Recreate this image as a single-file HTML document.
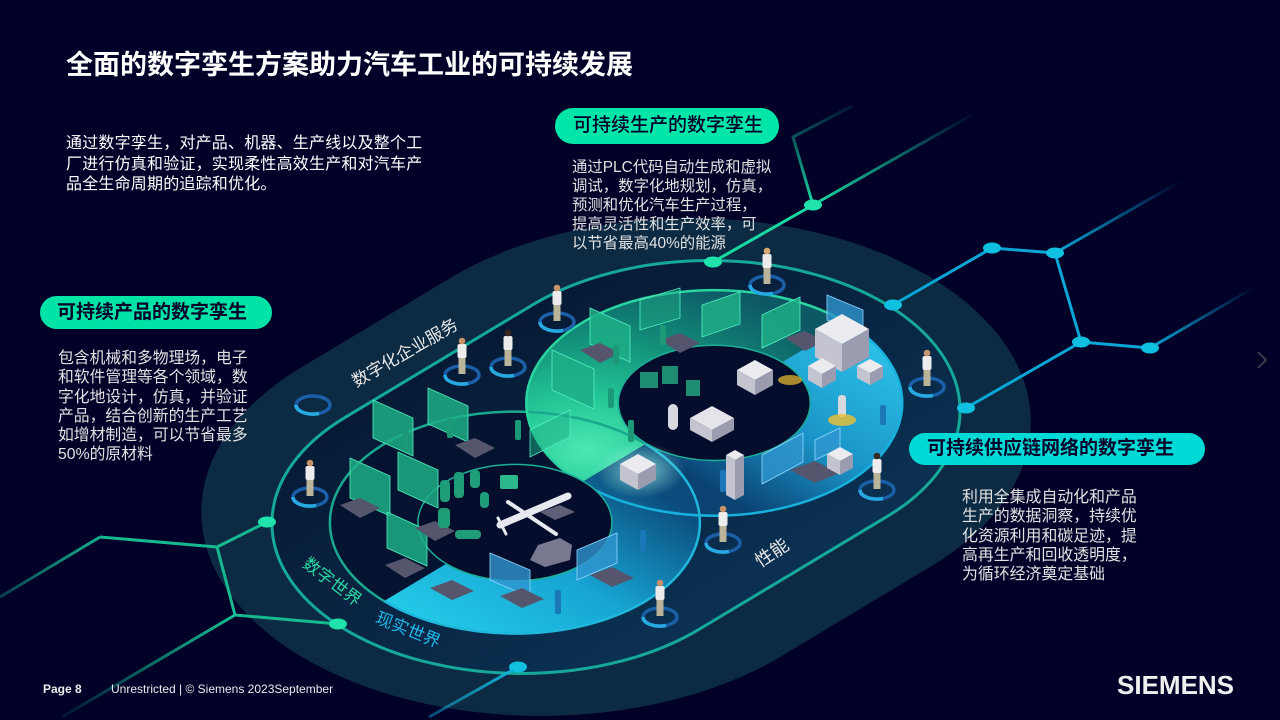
<!DOCTYPE html>
<html><head><meta charset="utf-8">
<style>
html,body{margin:0;padding:0;background:#000028;width:1280px;height:720px;overflow:hidden;}
#c{position:relative;width:1280px;height:720px;overflow:hidden;background:#000028;font-family:"Liberation Sans","Noto Sans CJK SC",sans-serif;}
svg{position:absolute;left:0;top:0;display:block}
.t{position:absolute;white-space:nowrap;color:#fff;}
.pill{position:absolute;white-space:nowrap;color:#000028;box-sizing:border-box;}
svg text{font-family:"Liberation Sans","Noto Sans CJK SC",sans-serif;}
</style></head><body><div id="c">
<svg width="1280" height="720" viewBox="0 0 1280 720">
<defs>
<clipPath id="dig"><polygon points="250,681.5 1000,231.5 1000,200 250,200"/></clipPath>
<clipPath id="real"><polygon points="250,681.5 1000,231.5 1000,700 250,700"/></clipPath>
<linearGradient id="ringIn" gradientUnits="userSpaceOnUse" gradientTransform="translate(616,467) scale(1,0.6) rotate(-45)" x1="0" y1="-250" x2="0" y2="250"><stop offset="0" stop-color="#061a35"/><stop offset="1" stop-color="#0b3152"/></linearGradient>
<radialGradient id="green" gradientUnits="userSpaceOnUse" gradientTransform="translate(616,467) scale(1,0.6) rotate(-45)" cx="0" cy="-40" r="300"><stop offset="0" stop-color="#4ae8b4"/><stop offset="0.3" stop-color="#23c595"/><stop offset="0.62" stop-color="#12907a"/><stop offset="1" stop-color="#0d5865"/></radialGradient>
<linearGradient id="rblue" gradientUnits="userSpaceOnUse" gradientTransform="translate(616,467) scale(1,0.6) rotate(-45)" x1="40" y1="0" x2="330" y2="0"><stop offset="0" stop-color="#0a4272"/><stop offset="0.45" stop-color="#1a94c8"/><stop offset="1" stop-color="#2cc0e8"/></linearGradient>
<linearGradient id="lcyan" gradientUnits="userSpaceOnUse" gradientTransform="translate(616,467) scale(1,0.6) rotate(-45)" x1="-330" y1="0" x2="0" y2="0"><stop offset="0" stop-color="#24cbe8"/><stop offset="0.5" stop-color="#17a5d4"/><stop offset="1" stop-color="#0b4c7c"/></linearGradient>
<radialGradient id="glow" cx="0.5" cy="0.5" r="0.5"><stop offset="0" stop-color="#9ff5e6" stop-opacity="0.75"/><stop offset="1" stop-color="#9ff5e6" stop-opacity="0"/></radialGradient>
<linearGradient id="fTop" gradientUnits="userSpaceOnUse" x1="813" y1="205" x2="977" y2="112"><stop offset="0" stop-color="#19d9a3"/><stop offset="1" stop-color="#19d9a3" stop-opacity="0"/></linearGradient>
<linearGradient id="fTop2" gradientUnits="userSpaceOnUse" x1="0" y1="205" x2="0" y2="100"><stop offset="0" stop-color="#19d9a3"/><stop offset="1" stop-color="#19d9a3" stop-opacity="0.05"/></linearGradient>
<linearGradient id="fR1" gradientUnits="userSpaceOnUse" x1="1055" y1="253" x2="1183" y2="180"><stop offset="0" stop-color="#0aa6d6"/><stop offset="1" stop-color="#0aa6d6" stop-opacity="0"/></linearGradient>
<linearGradient id="fR2" gradientUnits="userSpaceOnUse" x1="1150" y1="348" x2="1255" y2="287"><stop offset="0" stop-color="#0aa6d6"/><stop offset="1" stop-color="#0aa6d6" stop-opacity="0"/></linearGradient>
<linearGradient id="fL1" gradientUnits="userSpaceOnUse" x1="235" y1="615" x2="62" y2="717"><stop offset="0" stop-color="#16c092"/><stop offset="1" stop-color="#16c092" stop-opacity="0.1"/></linearGradient>
<linearGradient id="fL2" gradientUnits="userSpaceOnUse" x1="100" y1="537" x2="0" y2="597"><stop offset="0" stop-color="#16b08c"/><stop offset="1" stop-color="#16b08c" stop-opacity="0.35"/></linearGradient>
<linearGradient id="fB" gradientUnits="userSpaceOnUse" x1="518" y1="667" x2="429" y2="717"><stop offset="0" stop-color="#14b4dc"/><stop offset="1" stop-color="#14b4dc" stop-opacity="0.4"/></linearGradient>
</defs>

<!-- band capsule -->
<path d="M300.7,367.8 L450.6,277.8 A340 204 0 0 1 931.3,277.8 A340 204 0 0 1 931.3,566.2 L781.4,656.2 A340 204 0 0 1 300.7,656.2 A340 204 0 0 1 300.7,367.8 Z" fill="#0c2b43"/>
<!-- ring interior -->
<path d="M345.2,417.3 L533.2,304.5 A250 150 0 0 1 886.8,304.5 A250 150 0 0 1 886.8,516.7 L698.8,629.5 A250 150 0 0 1 345.2,629.5 A250 150 0 0 1 345.2,417.3 Z" fill="url(#ringIn)"/>
<!-- circles -->
<ellipse cx="514.9" cy="522.6" rx="185" ry="111" fill="#041430"/>
<ellipse cx="714.3" cy="402.9" rx="188" ry="112.8" fill="url(#green)" clip-path="url(#dig)"/>
<ellipse cx="714.3" cy="402.9" rx="188" ry="112.8" fill="url(#rblue)" clip-path="url(#real)"/>
<ellipse cx="514.9" cy="522.6" rx="185" ry="111" fill="url(#lcyan)" clip-path="url(#real)"/>
<ellipse cx="514.9" cy="522.6" rx="185" ry="111" fill="none" stroke="#1aa88f" stroke-width="2.5" clip-path="url(#dig)"/>
<ellipse cx="514.9" cy="522.6" rx="185" ry="111" fill="none" stroke="#1fb8dc" stroke-width="2.5" clip-path="url(#real)"/>
<ellipse cx="714.3" cy="402.9" rx="188" ry="112.8" fill="none" stroke="#2ad4a0" stroke-width="2.5" clip-path="url(#dig)"/>
<ellipse cx="714.3" cy="402.9" rx="188" ry="112.8" fill="none" stroke="#18b0dc" stroke-width="2.5" clip-path="url(#real)"/>
<ellipse cx="514.9" cy="522.6" rx="97" ry="58.2" fill="#050d2c" stroke="#1cae96" stroke-width="1.5"/>
<ellipse cx="714.3" cy="402.9" rx="96" ry="57.6" fill="#050d2c" stroke="#1cae96" stroke-width="1.5"/>
<!-- ring stroke -->
<path d="M345.2,417.3 L533.2,304.5 A250 150 0 0 1 886.8,304.5 A250 150 0 0 1 886.8,516.7 L698.8,629.5 A250 150 0 0 1 345.2,629.5 A250 150 0 0 1 345.2,417.3 Z" fill="none" stroke="#16a89b" stroke-width="3"/>

<!-- glow in overlap -->
<ellipse cx="640" cy="470" rx="45" ry="28" fill="url(#glow)"/>

<!-- green panels (digital) -->
<g fill="#1fae86" fill-opacity="0.85" stroke="#52f0c2" stroke-width="0.8">
 <path d="M373,400 L413,418 L413,456 L373,438Z"/>
 <path d="M428,388 L468,406 L468,442 L428,424Z"/>
 <path d="M350,458 L390,476 L390,516 L350,498Z"/>
 <path d="M398,452 L438,470 L438,508 L398,490Z"/>
 <path d="M387,512 L427,530 L427,566 L387,548Z"/>
 <path d="M590,308 L630,326 L630,362 L590,344Z"/>
 <path d="M552,350 L594,369 L594,409 L552,390Z"/>
 <path d="M702,305 L740,292 L740,324 L702,337Z"/>
 <path d="M762,315 L800,297 L800,330 L762,348Z"/>
 <path d="M530,430 L570,410 L570,437 L530,457Z" fill-opacity="0.5"/>
 <path d="M640,300 L680,288 L680,318 L640,330Z" fill-opacity="0.45"/>
</g>
<g fill="#2f95cf" fill-opacity="0.8" stroke="#8fd8ff" stroke-width="0.8">
 <path d="M827,295 L863,310 L863,335 L827,320Z"/>
 <path d="M762,455 L803,433 L803,462 L762,484Z"/>
 <path d="M577,550 L617,533 L617,563 L577,580Z"/>
 <path d="M490,553 L530,570 L530,597 L490,580Z"/>
 <path d="M815,440 L840,428 L840,448 L815,460Z"/>
</g>
<!-- desks -->
<g fill="#55566e">
 <path d="M580,350 L600,343 L620,353 L600,363Z"/>
 <path d="M455,445 L475,438 L495,448 L475,458Z"/>
 <path d="M415,528 L435,521 L455,531 L435,541Z"/>
 <path d="M660,340 L680,333 L700,343 L680,353Z"/>
 <path d="M785,338 L805,331 L825,341 L805,351Z"/>
 <path d="M790,470 L815,461 L840,473 L815,483Z"/>
 <path d="M430,588 L452,580 L474,591 L452,600Z"/>
 <path d="M500,596 L522,588 L544,599 L522,608Z"/>
 <path d="M590,575 L612,567 L634,578 L612,587Z"/>
 <path d="M340,505 L360,498 L380,508 L360,518Z"/>
 <path d="M385,565 L405,558 L425,568 L405,578Z"/>
</g>
<!-- small figures -->
<g fill="#1c9a78">
 <rect x="402" y="430" width="6" height="20" rx="2"/><rect x="447" y="418" width="6" height="20" rx="2"/>
 <rect x="515" y="420" width="6" height="20" rx="2"/><rect x="613" y="345" width="6" height="20" rx="2"/>
 <rect x="628" y="420" width="6" height="22" rx="2"/><rect x="608" y="388" width="6" height="20" rx="2"/>
 <rect x="660" y="325" width="6" height="20" rx="2"/>
</g>
<g fill="#1a78b8">
 <rect x="720" y="470" width="6" height="22" rx="2"/><rect x="640" y="530" width="6" height="22" rx="2"/>
 <rect x="555" y="590" width="6" height="24" rx="2"/><rect x="880" y="405" width="6" height="20" rx="2"/>
</g>
<!-- bottles in left core -->
<g fill="#1f9d78">
 <rect x="440" y="480" width="10" height="22" rx="4"/><rect x="454" y="472" width="10" height="26" rx="4"/>
 <rect x="470" y="470" width="10" height="18" rx="4"/><rect x="438" y="508" width="12" height="20" rx="4"/>
 <rect x="480" y="492" width="9" height="16" rx="4"/><rect x="455" y="530" width="26" height="9" rx="4"/>
 <rect x="500" y="475" width="18" height="14" rx="2" fill="#2bb88c"/>
</g>
<!-- airplane -->
<g stroke="#e8e8f0" stroke-linecap="round" fill="none">
 <line x1="500" y1="525" x2="568" y2="496" stroke-width="7"/>
 <line x1="508" y1="502" x2="556" y2="534" stroke-width="4"/>
 <line x1="498" y1="518" x2="506" y2="534" stroke-width="3"/>
</g>
<path d="M530,560 L538,545 L560,538 L572,545 L570,560 L545,567Z" fill="#787891"/>
<path d="M540,512 L560,505 L575,512 L555,520Z" fill="#5f5f78"/>
<!-- machines -->
<g>
 <path d="M842,314 L869,329 L842,344 L815,329Z" fill="#ebebf0"/><path d="M815,329 L842,344 L842,372 L815,357Z" fill="#c4c4d0"/><path d="M842,344 L869,329 L869,357 L842,372Z" fill="#9c9cb0"/>
 <path d="M822,358 L836,366 L822,374 L808,366Z" fill="#ebebf0"/><path d="M808,366 L822,374 L822,388 L808,380Z" fill="#c4c4d0"/><path d="M822,374 L836,366 L836,380 L822,388Z" fill="#9c9cb0"/>
 <path d="M870,359 L883,366 L870,373 L857,366Z" fill="#ebebf0"/><path d="M857,366 L870,373 L870,385 L857,378Z" fill="#c4c4d0"/><path d="M870,373 L883,366 L883,378 L870,385Z" fill="#9c9cb0"/>
 <path d="M840,447 L853,454 L840,461 L827,454Z" fill="#ebebf0"/><path d="M827,454 L840,461 L840,475 L827,468Z" fill="#c4c4d0"/><path d="M840,461 L853,454 L853,468 L840,475Z" fill="#9c9cb0"/>
 <path d="M638,454 L656,464 L638,474 L620,464Z" fill="#ebebf0"/><path d="M620,464 L638,474 L638,490 L620,480Z" fill="#c4c4d0"/><path d="M638,474 L656,464 L656,480 L638,490Z" fill="#9c9cb0"/>
 <path d="M755,360 L773,370 L755,380 L737,370Z" fill="#ebebf0"/><path d="M737,370 L755,380 L755,395 L737,385Z" fill="#c4c4d0"/><path d="M755,380 L773,370 L773,385 L755,395Z" fill="#9c9cb0"/>
 <path d="M712,406 L734,418 L712,430 L690,418Z" fill="#e4e4ea"/><path d="M690,418 L712,430 L712,442 L690,430Z" fill="#c4c4d0"/><path d="M712,430 L734,418 L734,430 L712,442Z" fill="#9c9cb0"/>
 <path d="M735,450 L744,455 L735,460 L726,455Z" fill="#ebebf0"/><path d="M726,455 L735,460 L735,500 L726,495Z" fill="#c4c4d0"/><path d="M735,460 L744,455 L744,495 L735,500Z" fill="#9c9cb0"/>
 <rect x="668" y="404" width="10" height="26" rx="5" fill="#d8d8e0"/>
 <rect x="838" y="395" width="8" height="22" rx="3" fill="#d8d8e0"/>
 <ellipse cx="842" cy="420" rx="14" ry="6" fill="#f0c030" fill-opacity="0.8"/>
 <ellipse cx="790" cy="380" rx="12" ry="5" fill="#f0c030" fill-opacity="0.7"/>
</g>
<!-- small green machines in right core -->
<g fill="#22a37c" fill-opacity="0.85">
 <rect x="640" y="372" width="18" height="16"/><rect x="662" y="366" width="16" height="18"/><rect x="686" y="380" width="14" height="16"/>
</g>

<!-- network lines -->
<g fill="none" stroke-width="3" stroke-linejoin="round">
 <polyline points="267,522 217,547 100,537" stroke="#16b890"/>
 <line x1="100" y1="537" x2="0" y2="597" stroke="url(#fL2)"/>
 <polyline points="217,547 235,615 338,624" stroke="#16b890"/>
 <line x1="235" y1="615" x2="62" y2="717" stroke="url(#fL1)"/>
 <line x1="713" y1="262" x2="813" y2="205" stroke="#19d9a3"/>
 <line x1="813" y1="205" x2="977" y2="112" stroke="url(#fTop)"/>
 <polyline points="813,205 793,137 852,106" stroke="url(#fTop2)"/>
 <polyline points="893,305 992,248 1055,253 1081,342 1150,348" stroke="#0aa6d6"/>
 <line x1="1081" y1="342" x2="966" y2="408" stroke="#0aa6d6"/>
 <line x1="1055" y1="253" x2="1183" y2="180" stroke="url(#fR1)"/>
 <line x1="1150" y1="348" x2="1255" y2="287" stroke="url(#fR2)"/>
 <line x1="518" y1="667" x2="429" y2="717" stroke="url(#fB)"/>
</g>
<g fill="#1fe3aa">
 <ellipse cx="267" cy="522" rx="9" ry="5.5"/><ellipse cx="338" cy="624" rx="9" ry="5.5"/>
 <ellipse cx="713" cy="262" rx="9" ry="5.5"/><ellipse cx="813" cy="205" rx="9" ry="5.5"/>
</g>
<g fill="#10c0e0">
 <ellipse cx="518" cy="667" rx="9" ry="5.5"/><ellipse cx="893" cy="305" rx="9" ry="5.5"/>
 <ellipse cx="992" cy="248" rx="9" ry="5.5"/><ellipse cx="1055" cy="253" rx="9" ry="5.5"/>
 <ellipse cx="1081" cy="342" rx="9" ry="5.5"/><ellipse cx="1150" cy="348" rx="9" ry="5.5"/>
 <ellipse cx="966" cy="408" rx="9" ry="5.5"/>
</g>

<!-- people markers -->
<g>
 <g transform="translate(313,405)"><ellipse rx="17" ry="9" fill="none" stroke="#1b5fa8" stroke-width="3.5"/><path d="M-17,0 A17 9 0 0 0 6 8.5" fill="none" stroke="#27a9e1" stroke-width="3.5"/></g>
 <g transform="translate(310,497)"><ellipse rx="17" ry="9" fill="none" stroke="#1b5fa8" stroke-width="3.5"/><path d="M-17,0 A17 9 0 0 0 6 8.5" fill="none" stroke="#27a9e1" stroke-width="3.5"/><rect x="-3.5" y="-18" width="7" height="17" fill="#bab59a"/><rect x="-4.5" y="-31" width="9" height="14" rx="2" fill="#ececec"/><circle cy="-34" r="3.3" fill="#c8926a"/></g>
 <g transform="translate(462,375)"><ellipse rx="17" ry="9" fill="none" stroke="#1b5fa8" stroke-width="3.5"/><path d="M-17,0 A17 9 0 0 0 6 8.5" fill="none" stroke="#27a9e1" stroke-width="3.5"/><rect x="-3.5" y="-18" width="7" height="17" fill="#bab59a"/><rect x="-4.5" y="-31" width="9" height="14" rx="2" fill="#ececec"/><circle cy="-34" r="3.3" fill="#c8926a"/></g>
 <g transform="translate(508,367)"><ellipse rx="17" ry="9" fill="none" stroke="#1b5fa8" stroke-width="3.5"/><path d="M-17,0 A17 9 0 0 0 6 8.5" fill="none" stroke="#27a9e1" stroke-width="3.5"/><rect x="-3.5" y="-18" width="7" height="17" fill="#bab59a"/><rect x="-4.5" y="-31" width="9" height="14" rx="2" fill="#ececec"/><circle cy="-34" r="3.3" fill="#3a2a20"/></g>
 <g transform="translate(557,322)"><ellipse rx="17" ry="9" fill="none" stroke="#1b5fa8" stroke-width="3.5"/><path d="M-17,0 A17 9 0 0 0 6 8.5" fill="none" stroke="#27a9e1" stroke-width="3.5"/><rect x="-3.5" y="-18" width="7" height="17" fill="#bab59a"/><rect x="-4.5" y="-31" width="9" height="14" rx="2" fill="#ececec"/><circle cy="-34" r="3.3" fill="#c8926a"/></g>
 <g transform="translate(767,285)"><ellipse rx="17" ry="9" fill="none" stroke="#1b5fa8" stroke-width="3.5"/><path d="M-17,0 A17 9 0 0 0 6 8.5" fill="none" stroke="#27a9e1" stroke-width="3.5"/><rect x="-3.5" y="-18" width="7" height="17" fill="#bab59a"/><rect x="-4.5" y="-31" width="9" height="14" rx="2" fill="#ececec"/><circle cy="-34" r="3.3" fill="#d8a870"/></g>
 <g transform="translate(927,387)"><ellipse rx="17" ry="9" fill="none" stroke="#1b5fa8" stroke-width="3.5"/><path d="M-17,0 A17 9 0 0 0 6 8.5" fill="none" stroke="#27a9e1" stroke-width="3.5"/><rect x="-3.5" y="-18" width="7" height="17" fill="#bab59a"/><rect x="-4.5" y="-31" width="9" height="14" rx="2" fill="#ececec"/><circle cy="-34" r="3.3" fill="#c8926a"/></g>
 <g transform="translate(877,490)"><ellipse rx="17" ry="9" fill="none" stroke="#1b5fa8" stroke-width="3.5"/><path d="M-17,0 A17 9 0 0 0 6 8.5" fill="none" stroke="#27a9e1" stroke-width="3.5"/><rect x="-3.5" y="-18" width="7" height="17" fill="#bab59a"/><rect x="-4.5" y="-31" width="9" height="14" rx="2" fill="#ececec"/><circle cy="-34" r="3.3" fill="#3a2a20"/></g>
 <g transform="translate(723,543)"><ellipse rx="17" ry="9" fill="none" stroke="#1b5fa8" stroke-width="3.5"/><path d="M-17,0 A17 9 0 0 0 6 8.5" fill="none" stroke="#27a9e1" stroke-width="3.5"/><rect x="-3.5" y="-18" width="7" height="17" fill="#bab59a"/><rect x="-4.5" y="-31" width="9" height="14" rx="2" fill="#ececec"/><circle cy="-34" r="3.3" fill="#c8926a"/></g>
 <g transform="translate(660,617)"><ellipse rx="17" ry="9" fill="none" stroke="#1b5fa8" stroke-width="3.5"/><path d="M-17,0 A17 9 0 0 0 6 8.5" fill="none" stroke="#27a9e1" stroke-width="3.5"/><rect x="-3.5" y="-18" width="7" height="17" fill="#bab59a"/><rect x="-4.5" y="-31" width="9" height="14" rx="2" fill="#ececec"/><circle cy="-34" r="3.3" fill="#c8926a"/></g>
</g>

<!-- diagram labels -->
<text x="405" y="353" transform="rotate(-30 405 353)" font-size="17" fill="#e8e8e8" text-anchor="middle" dominant-baseline="central">数字化企业服务</text>
<text x="332" y="582" transform="rotate(37 332 582)" font-size="17" fill="#2bd8a2" text-anchor="middle" dominant-baseline="central">数字世界</text>
<text x="408" y="630" transform="rotate(22 408 630)" font-size="17" fill="#22b8e8" text-anchor="middle" dominant-baseline="central">现实世界</text>
<text x="772" y="553" transform="rotate(-34 772 553)" font-size="18" fill="#e8e8e8" text-anchor="middle" dominant-baseline="central">性能</text>

<!-- chevron -->
<path d="M1258,352 L1266,360 L1258,368" fill="none" stroke="#3a3a4c" stroke-width="2"/>
</svg>

<div class="t" style="left:66px;top:47px;font-size:27px;line-height:36px;font-weight:bold;">全面的数字孪生方案助力汽车工业的可持续发展</div>

<div class="t" style="left:66px;top:134px;font-size:16px;line-height:20.5px;letter-spacing:0.2px;">
<div>通过数字孪生，对产品、机器、生产线以及整个工</div>
<div>厂进行仿真和验证，实现柔性高效生产和对汽车产</div>
<div>品全生命周期的追踪和优化。</div>
</div>

<div class="pill" style="left:555px;top:108px;width:224px;height:36px;border-radius:18px;background:#00e5a8;font-size:19px;line-height:36px;padding-left:18px;font-weight:500;">可持续生产的数字孪生</div>
<div class="t" style="left:572px;top:157.5px;font-size:15.4px;line-height:19px;color:#e2e2e2;">
<div>通过PLC代码自动生成和虚拟</div>
<div>调试，数字化地规划，仿真，</div>
<div>预测和优化汽车生产过程，</div>
<div>提高灵活性和生产效率，可</div>
<div>以节省最高40%的能源</div>
</div>

<div class="pill" style="left:40px;top:296px;width:232px;height:33px;border-radius:17px;background:#00e3a6;font-size:19px;line-height:33px;padding-left:17px;font-weight:bold;">可持续产品的数字孪生</div>
<div class="t" style="left:58px;top:349px;font-size:15.8px;line-height:19.3px;color:#e2e2e2;">
<div>包含机械和多物理场，电子</div>
<div>和软件管理等各个领域，数</div>
<div>字化地设计，仿真，并验证</div>
<div>产品，结合创新的生产工艺</div>
<div>如增材制造，可以节省最多</div>
<div>50%的原材料</div>
</div>

<div class="pill" style="left:909px;top:433px;width:296px;height:32px;border-radius:16px;background:#00dad6;font-size:19px;line-height:32px;padding-left:18px;font-weight:bold;">可持续供应链网络的数字孪生</div>
<div class="t" style="left:962px;top:488px;font-size:15.9px;line-height:19.3px;color:#e2e2e2;">
<div>利用全集成自动化和产品</div>
<div>生产的数据洞察，持续优</div>
<div>化资源利用和碳足迹，提</div>
<div>高再生产和回收透明度，</div>
<div>为循环经济奠定基础</div>
</div>

<div class="t" style="left:43px;top:682px;font-size:12px;line-height:14px;font-weight:bold;color:#ececec;">Page 8</div>
<div class="t" style="left:111px;top:682px;font-size:12px;line-height:14px;color:#ececec;">Unrestricted | © Siemens 2023September</div>
<div class="t" style="left:1117px;top:672px;font-size:26px;line-height:26px;font-weight:bold;color:#f0f0f0;">SIEMENS</div>
</div></body></html>
